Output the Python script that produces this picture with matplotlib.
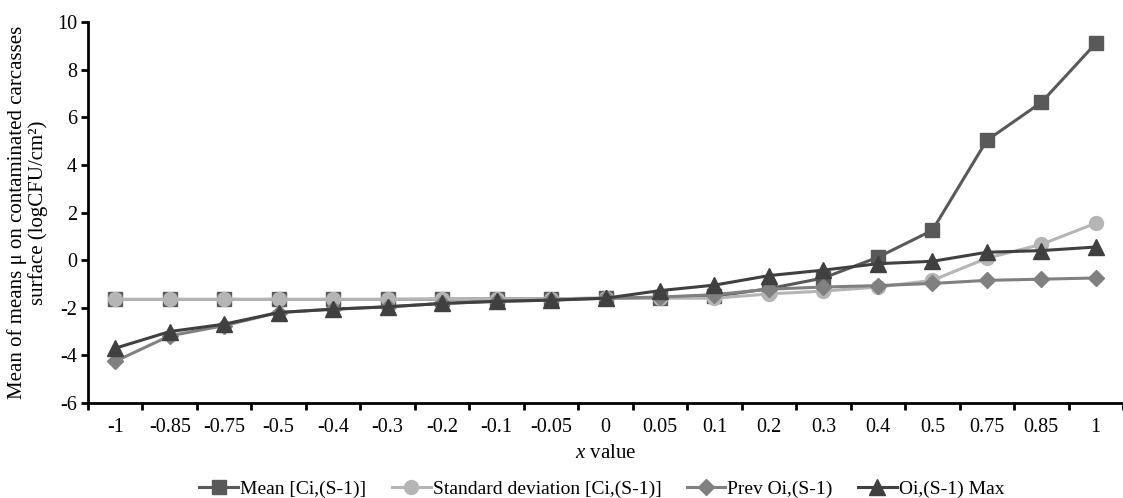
import numpy as np
import matplotlib
matplotlib.use("Agg")
import matplotlib.pyplot as plt

# Data
x_labels = ["-1", "-0.85", "-0.75", "-0.5", "-0.4", "-0.3", "-0.2", "-0.1", "-0.05", "0",
            "0.05", "0.1", "0.2", "0.3", "0.4", "0.5", "0.75", "0.85", "1"]

mean_ci = [-1.65, -1.65, -1.65, -1.65, -1.65, -1.65, -1.64, -1.63, -1.62, -1.6,
           -1.58, -1.52, -1.2, -0.75, 0.12, 1.25, 5.03, 6.62, 9.1]
std_ci = [-1.65, -1.65, -1.65, -1.65, -1.65, -1.65, -1.64, -1.63, -1.62, -1.6,
          -1.6, -1.6, -1.42, -1.3, -1.13, -0.85, 0.08, 0.66, 1.55]
prev_oi = [-4.25, -3.18, -2.75, -2.2, -2.06, -1.96, -1.82, -1.73, -1.68, -1.6,
           -1.55, -1.45, -1.22, -1.13, -1.07, -0.98, -0.85, -0.8, -0.75]
max_oi = [-3.7, -3.0, -2.69, -2.2, -2.06, -1.96, -1.82, -1.73, -1.68, -1.6,
          -1.28, -1.05, -0.65, -0.42, -0.15, -0.05, 0.33, 0.4, 0.55]

plt.rcParams["font.family"] = ["Liberation Serif", "DejaVu Serif"]
plt.rcParams["font.size"] = 14
plt.rcParams["axes.unicode_minus"] = False
plt.rcParams["mathtext.fontset"] = "custom"
plt.rcParams["mathtext.rm"] = "Liberation Serif"
plt.rcParams["mathtext.it"] = "Liberation Serif:italic"

fig = plt.figure(figsize=(11.23, 4.98), dpi=100)
ax = fig.add_axes([88 / 1123, 1 - 403 / 498, 1 - 88 / 1123, (403 - 22) / 498])

x = np.arange(len(x_labels))

ax.plot(x, mean_ci, color="#595959", marker="s", markersize=10.5, linewidth=2.2,
        label="Mean [Ci,(S-1)]")
ax.plot(x, std_ci, color="#b5b5b5", marker="o", markersize=10, linewidth=2.2,
        label="Standard deviation [Ci,(S-1)]")
ax.plot(x, prev_oi, color="#808080", marker="D", markersize=8.5, linewidth=2.2,
        label="Prev Oi,(S-1)")
ax.plot(x, max_oi, color="#404040", marker="^", markersize=11, linewidth=2.2,
        label="Oi,(S-1) Max")

ax.set_xlim(-0.5, 18.34)
ax.set_ylim(-6, 10)
ax.set_yticks(np.arange(-6, 11, 2))
ax.set_xticks(x)
ax.set_xticklabels(x_labels)
ax.set_xticks(np.arange(-0.5, 18.6, 1), minor=True)
ax.tick_params(axis="x", which="major", length=0, pad=11, labelsize=14.5)
ax.tick_params(axis="x", which="minor", length=5, width=2, direction="out")
ax.tick_params(axis="y", length=5, width=2, direction="out", pad=3, labelsize=14.5)

for side in ["top", "right"]:
    ax.spines[side].set_visible(False)
ax.spines["left"].set_linewidth(2)
ax.spines["bottom"].set_linewidth(2)

ax.set_ylabel("Mean of means \u03bc on contaminated carcasses\nsurface (logCFU/cm\u00b2)",
              fontsize=15, labelpad=6, linespacing=1.1)
ax.set_xlabel("$x$ value", fontsize=15, labelpad=5)

fig.legend(loc="lower center", bbox_to_anchor=(0.536, -0.035), ncol=4, frameon=False,
           handlelength=2.0, columnspacing=1.3, handletextpad=0.1, fontsize=14)

fig.savefig("out.png", dpi=100)
